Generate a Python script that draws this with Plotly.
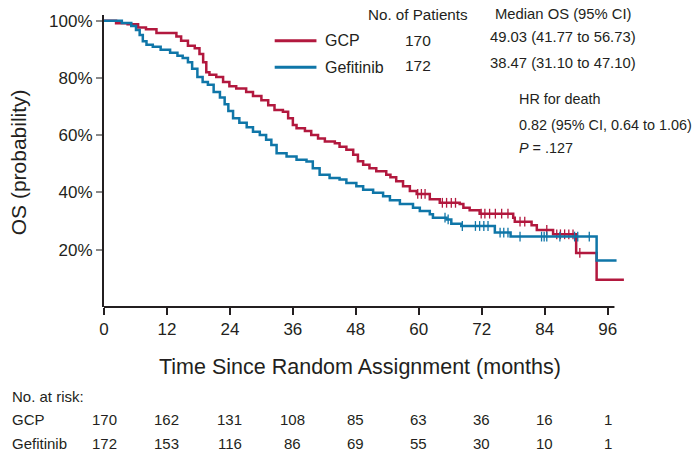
import bisect
import plotly.graph_objects as go

# ---------------- data ----------------
gcp_t = [0, 2.3, 4.5, 6.5, 8.0, 10.0, 13.8, 14.7, 16.0, 17.3, 18.2, 18.9, 19.5, 20.1,
         21.4, 22.7, 23.9, 25.2, 27.1, 28.4, 30.0, 31.3, 32.5, 34.1, 35.1, 36.0, 36.7,
         38.3, 39.5, 40.8, 42.1, 44.0, 44.9, 46.2, 47.5, 48.4, 49.4, 50.6, 51.9, 53.8,
         54.6, 55.7, 57.0, 58.3, 59.6, 62.1, 64.0, 67.8, 68.5, 69.7, 71.6, 78.0, 78.3,
         81.5, 82.5, 85.6, 90.0, 93.9, 99.1]
gcp_s = [100, 99.1, 98.8, 97.6, 97.0, 95.7, 94.5, 93.0, 91.3, 90.4, 88.4, 85.5, 82.0, 81.1,
         80.3, 78.6, 77.1, 76.3, 75.1, 73.7, 72.2, 70.5, 68.8, 68.2, 65.9, 63.6, 62.4,
         61.5, 60.1, 58.9, 57.8, 57.2, 56.0, 54.9, 53.2, 50.9, 49.7, 48.5, 47.4, 46.2,
         45.3, 43.9, 42.2, 40.5, 39.5, 37.6, 36.4, 36.0, 34.7, 33.8, 32.6, 31.2, 29.8,
         28.6, 26.9, 25.4, 18.9, 9.5, 9.5]

gef_t = [0, 3.4, 5.2, 6.1, 6.8, 7.4, 8.1, 9.3, 10.8, 12.6, 14.0, 15.0, 16.0, 16.8, 17.8,
         18.8, 19.8, 20.9, 22.1, 23.0, 23.7, 24.6, 25.8, 27.2, 28.4, 29.7, 30.9, 31.9,
         32.9, 34.8, 36.7, 38.6, 39.8, 41.1, 43.0, 44.9, 46.2, 48.1, 49.4, 51.3, 53.2,
         54.5, 56.4, 58.9, 60.2, 62.1, 62.7, 65.3, 66.2, 68.1, 74.5, 77.5, 93.9, 97.7]
gef_s = [100, 99.2, 98.2, 96.8, 95.0, 92.8, 91.6, 90.9, 89.9, 88.8, 87.8, 87.0, 85.5, 83.2,
         80.3, 78.6, 77.6, 75.1, 73.2, 70.8, 68.5, 65.9, 64.4, 62.8, 61.2, 60.1, 58.4,
         56.6, 53.7, 52.6, 51.4, 50.8, 48.5, 46.2, 45.1, 44.5, 43.3, 42.2, 41.0, 39.9,
         38.7, 37.3, 36.0, 34.7, 33.5, 32.4, 31.2, 30.6, 29.1, 28.3, 26.0, 24.6, 16.2, 16.2]

gcp_cens = [59.8, 60.5, 61.2, 64.5, 65.3, 66.2, 67.0, 71.9, 72.6, 73.5, 74.6, 75.8, 77.0,
            79.3, 80.2, 84.4, 86.3, 87.0, 87.8, 88.6, 89.4, 90.7]
gef_cens = [65.0, 65.6, 68.3, 70.8, 71.6, 72.4, 73.2, 75.5, 76.2, 77.0, 79.3, 83.4, 83.9,
            84.4, 86.9, 89.7, 90.3, 92.5]

x_ticks = [0, 12, 24, 36, 48, 60, 72, 84, 96]
y_ticks = [20, 40, 60, 80, 100]
risk_gcp = [170, 162, 131, 108, 85, 63, 36, 16, 1]
risk_gef = [172, 153, 116, 86, 69, 55, 30, 10, 1]

groups = ["GCP", "Gefitinib"]
n_patients = [170, 172]
median_os = ["49.03 (41.77 to 56.73)", "38.47 (31.10 to 47.10)"]
hr_lines = ["HR for death", "0.82 (95% CI, 0.64 to 1.06)", "<i>P</i> = .127"]

RED = "#B2183E"
BLUE = "#0F76A8"
TXT = "#231F20"
FONT = "Liberation Sans, Arial, sans-serif"


def step_at(ts, ss, t):
    i = bisect.bisect_right(ts, t) - 1
    return ss[max(i, 0)]


fig = go.Figure()
for ts, ss, cens, col, name in [(gcp_t, gcp_s, gcp_cens, RED, "GCP"),
                                (gef_t, gef_s, gef_cens, BLUE, "Gefitinib")]:
    fig.add_trace(go.Scatter(x=ts, y=ss, mode="lines", line=dict(color=col, width=2.5, shape="hv"),
                             name=name, showlegend=False, hoverinfo="skip"))
    fig.add_trace(go.Scatter(x=cens, y=[step_at(ts, ss, c) for c in cens], mode="markers",
                             marker=dict(symbol="line-ns", size=7, line=dict(color=col, width=1.3)),
                             showlegend=False, hoverinfo="skip"))

fig.update_layout(
    width=700, height=458,
    margin=dict(l=104, r=74, t=12, b=151),
    paper_bgcolor="white", plot_bgcolor="white",
    font=dict(family=FONT, color=TXT),
    xaxis=dict(range=[0, 99.5], tickvals=x_ticks, ticktext=[str(v) for v in x_ticks],
               ticks="outside", ticklen=7, tickwidth=2, tickcolor=TXT,
               showline=False, showgrid=False, zeroline=False,
               tickfont=dict(size=17, family=FONT, color=TXT)),
    yaxis=dict(range=[0, 102], tickvals=y_ticks, ticktext=[f"{v}%" for v in y_ticks],
               ticks="outside", ticklen=6, tickwidth=2, tickcolor="#8a8a8a",
               showline=True, linecolor=TXT, linewidth=2, showgrid=False, zeroline=False,
               tickfont=dict(size=17, family=FONT, color=TXT)),
)

# x axis line (ends a little short of the plot edge, like the reference)
fig.add_shape(type="line", xref="x", yref="paper", x0=0, x1=97.3, y0=0, y1=0,
              line=dict(color=TXT, width=2))

ann = []
# axis titles
ann.append(dict(text="Time Since Random Assignment (months)", xref="paper", yref="paper",
                x=0.49, y=-0.205, showarrow=False, font=dict(size=21.5, family=FONT, color=TXT),
                xanchor="center", yanchor="middle"))
ann.append(dict(text="OS (probability)", xref="paper", yref="paper", x=-0.164, y=0.497,
                textangle=-90, showarrow=False, font=dict(size=21, family=FONT, color=TXT),
                xanchor="center", yanchor="middle"))

# legend / summary table
leg_y = [0.912, 0.821]
cols = [RED, BLUE]
for i, g in enumerate(groups):
    fig.add_shape(type="line", xref="paper", yref="paper", x0=0.327, x1=0.407,
                  y0=leg_y[i], y1=leg_y[i], line=dict(color=cols[i], width=3))
    ann.append(dict(text=g, xref="paper", yref="paper", x=0.419, y=leg_y[i], showarrow=False,
                    xanchor="left", yanchor="middle", font=dict(size=16, color=TXT)))
    ann.append(dict(text=str(n_patients[i]), xref="paper", yref="paper", x=0.601,
                    y=[0.912, 0.827][i], showarrow=False, xanchor="center", yanchor="middle",
                    font=dict(size=15.5, color=TXT)))
    ann.append(dict(text=median_os[i], xref="paper", yref="paper", x=0.880,
                    y=[0.923, 0.835][i], showarrow=False, xanchor="center", yanchor="middle",
                    font=dict(size=14.8, color=TXT)))
ann.append(dict(text="No. of Patients", xref="paper", yref="paper", x=0.601, y=1.002,
                showarrow=False, xanchor="center", yanchor="middle", font=dict(size=15.2, color=TXT)))
ann.append(dict(text="Median OS (95% CI)", xref="paper", yref="paper", x=0.880, y=1.002,
                showarrow=False, xanchor="center", yanchor="middle", font=dict(size=14.8, color=TXT)))
for txt, yy in zip(hr_lines, [0.714, 0.625, 0.544]):
    ann.append(dict(text=txt, xref="paper", yref="paper", x=0.791, y=yy, showarrow=False,
                    xanchor="left", yanchor="middle", font=dict(size=14.4, color=TXT)))

# number at risk table
ann.append(dict(text="No. at risk:", xref="paper", yref="paper", x=-0.181, y=-0.306,
                showarrow=False, xanchor="left", yanchor="middle", font=dict(size=15, color=TXT)))
for lab, row, yy in [("GCP", risk_gcp, -0.385), ("Gefitinib", risk_gef, -0.466)]:
    ann.append(dict(text=lab, xref="paper", yref="paper", x=-0.181, y=yy, showarrow=False,
                    xanchor="left", yanchor="middle", font=dict(size=15, color=TXT)))
    for xv, n in zip(x_ticks, row):
        ann.append(dict(text=str(n), xref="x", yref="paper", x=xv, y=yy, showarrow=False,
                        xanchor="center", yanchor="middle", font=dict(size=15, color=TXT)))

fig.update_layout(annotations=ann)
fig.write_html("out.html", config={"displayModeBar": False},
               post_script="document.body.style.margin='0px';")
